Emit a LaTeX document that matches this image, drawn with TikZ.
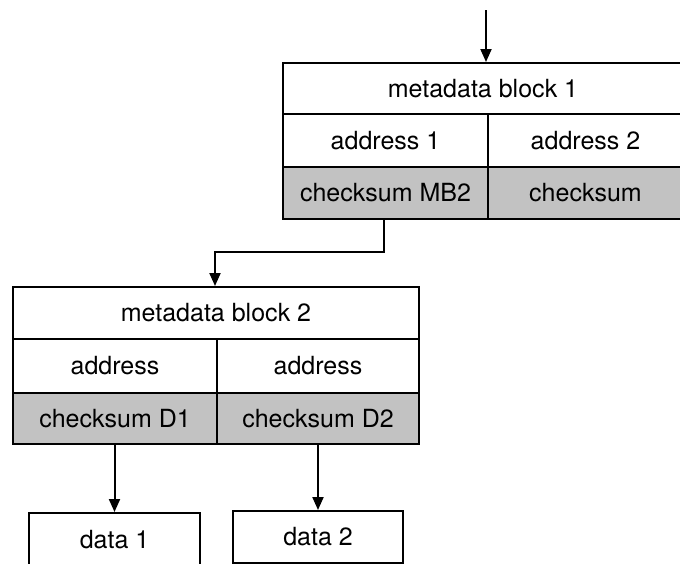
\documentclass[tikz,border=0pt]{standalone}
\usepackage{fontspec}
\setmainfont{TeX Gyre Heros}
\usetikzlibrary{arrows.meta}
\begin{document}
\begin{tikzpicture}[x=1pt,y=-1pt,
  cell/.style={draw=black, line width=2pt, inner sep=0pt, anchor=north west,
    font=\fontsize{25}{29}\selectfont},
  shaded/.style={cell, fill=black!24},
  conn/.style={line width=2pt, -{Triangle[length=13pt,width=11pt]}}]
\useasboundingbox (0,0) rectangle (680,563);
\fill[white] (0,0) rectangle (680,563);
\clip (0,0) rectangle (680,563);
% metadata block 1
\node[cell, minimum width=400pt, minimum height=51pt] (mb1) at (282,62) {metadata block 1};
\node[cell, minimum width=205pt, minimum height=53pt] (a11) at (282,113) {address 1};
\node[cell, minimum width=195pt, minimum height=53pt] (a12) at (487,113) {address 2};
\node[shaded, minimum width=205pt, minimum height=52pt] (c11) at (282,166) {checksum MB2};
\node[shaded, minimum width=195pt, minimum height=52pt] (c12) at (487,166) {checksum};
% metadata block 2
\node[cell, minimum width=406pt, minimum height=52pt] (mb2) at (12,286) {metadata block 2};
\node[cell, minimum width=204pt, minimum height=54pt] (a21) at (12,338) {address};
\node[cell, minimum width=202pt, minimum height=54pt] (a22) at (216,338) {address};
\node[shaded, minimum width=204pt, minimum height=51pt] (c21) at (12,392) {checksum D1};
\node[shaded, minimum width=202pt, minimum height=51pt] (c22) at (216,392) {checksum D2};
% data blocks
\node[cell, minimum width=171pt, minimum height=54pt] (d1) at (28,512) {data 1};
\node[cell, minimum width=170pt, minimum height=52pt] (d2) at (232,510) {data 2};
% connectors
\coordinate (in) at (486,10);
\coordinate (bend1) at (384,252);
\coordinate (bend2) at (215,252);
\draw[conn] (in) -- (in |- mb1.north);
\draw[conn] (bend1 |- c11.south) -- (bend1) -- (bend2) -- (bend2 |- mb2.north);
\draw[conn] (d1.north |- c21.south) -- (d1.north);
\draw[conn] (d2.north |- c22.south) -- (d2.north);
\end{tikzpicture}
\end{document}
